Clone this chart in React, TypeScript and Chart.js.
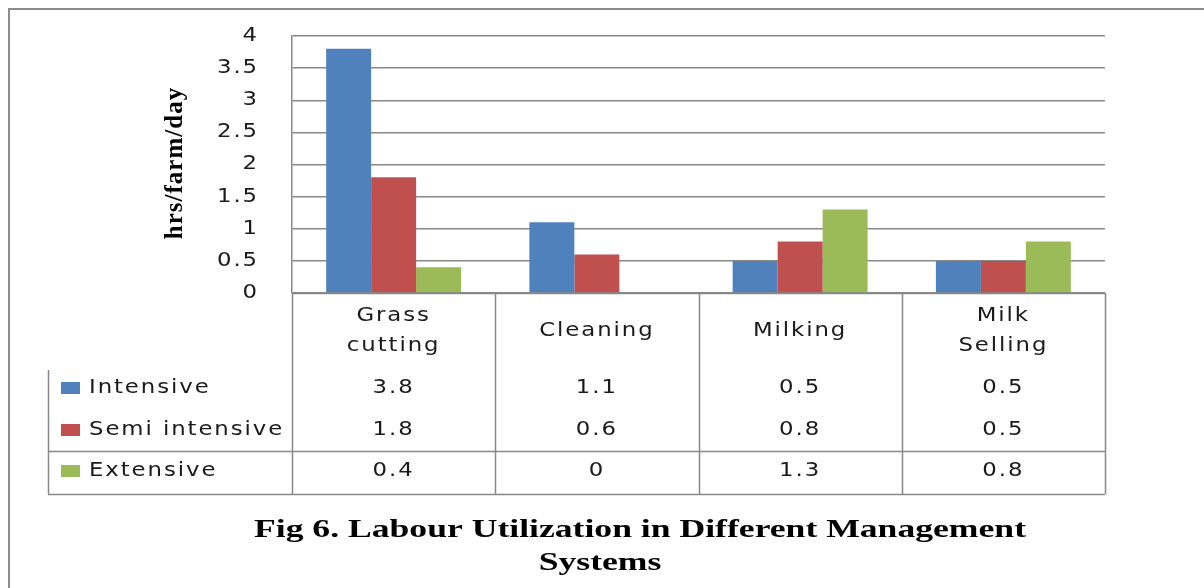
import React, { useEffect, useRef } from "react";
import { Chart, registerables } from "chart.js";

Chart.register(...registerables);

const categories = ["Grass cutting", "Cleaning", "Milking", "Milk Selling"];
const categoryLines: string[][] = [["Grass", "cutting"], ["Cleaning"], ["Milking"], ["Milk", "Selling"]];
const seriesNames = ["Intensive", "Semi intensive", "Extensive"];
const intensive = [3.8, 1.1, 0.5, 0.5];
const semiIntensive = [1.8, 0.6, 0.8, 0.5];
const extensive = [0.4, 0, 1.3, 0.8];
const seriesColors = ["#4F81BD", "#C0504D", "#9BBB59"];
const yMin = 0;
const yMax = 4;
const yStep = 0.5;
const yAxisTitle = "hrs/farm/day";
const chartTitle = ["Fig 6. Labour Utilization in Different Management", "Systems"];

const seriesValues = [intensive, semiIntensive, extensive];

const TEXT_FONT = '19px "DejaVu Sans"';
const TEXT_COLOR = "#1a1a1a";
const LINE_COLOR = "#888888";
const TEXT_SX = 1.2;
const TEXT_SPACING = 1.6;

function drawText(
  ctx: CanvasRenderingContext2D,
  text: string,
  x: number,
  y: number,
  align: CanvasTextAlign
) {
  ctx.save();
  ctx.translate(x, y);
  ctx.scale(TEXT_SX, 1);
  ctx.font = TEXT_FONT;
  ctx.fillStyle = TEXT_COLOR;
  ctx.letterSpacing = TEXT_SPACING + "px";
  ctx.textBaseline = "middle";
  ctx.textAlign = align;
  ctx.fillText(text, 0, 0);
  ctx.restore();
}

const tablePlugin = {
  id: "dataTable",
  afterDraw(chart: any) {
    const ctx: CanvasRenderingContext2D = chart.ctx;
    const xs = chart.scales.x;
    const ys = chart.scales.y;
    const area = chart.chartArea;
    const n = categories.length;
    const colW = (area.right - area.left) / n;
    const top = area.bottom;
    const legendTop = 370;
    const rowY = [388, 430, 471];
    const sepY = 451;
    const bottom = 494;
    const legendLeft = 48;

    ctx.save();
    // outer frame
    ctx.strokeStyle = "#8c8c8c";
    ctx.lineWidth = 2;
    ctx.strokeRect(9, 9, 1400, 800);

    // table lines
    ctx.strokeStyle = LINE_COLOR;
    ctx.lineWidth = 1.5;
    ctx.beginPath();
    for (let i = 0; i <= n; i++) {
      const x = Math.round(area.left + i * colW) + 0.5;
      ctx.moveTo(x, top);
      ctx.lineTo(x, bottom);
    }
    ctx.moveTo(legendLeft + 0.5, legendTop);
    ctx.lineTo(legendLeft + 0.5, bottom);
    ctx.moveTo(legendLeft, sepY + 0.5);
    ctx.lineTo(area.right, sepY + 0.5);
    ctx.moveTo(legendLeft, bottom + 0.5);
    ctx.lineTo(area.right, bottom + 0.5);
    ctx.moveTo(area.left, top + 0.5);
    ctx.lineTo(area.right, top + 0.5);
    ctx.stroke();

    // y tick labels
    ys.ticks.forEach((t: any) => {
      drawText(ctx, String(t.value), 259, ys.getPixelForValue(t.value), "right");
    });

    // table header and values
    categoryLines.forEach((lines, i) => {
      const cx = xs.getPixelForValue(i);
      if (lines.length === 2) {
        drawText(ctx, lines[0], cx, 316, "center");
        drawText(ctx, lines[1], cx, 346, "center");
      } else {
        drawText(ctx, lines[0], cx, 331, "center");
      }
    });
    seriesValues.forEach((vals, s) => {
      vals.forEach((v, i) => {
        drawText(ctx, String(v), xs.getPixelForValue(i), rowY[s], "center");
      });
    });
    seriesNames.forEach((name, s) => {
      ctx.fillStyle = seriesColors[s];
      ctx.fillRect(61, rowY[s] - 6, 19, 12);
      drawText(ctx, name, 89, rowY[s], "left");
    });

    // y axis title
    ctx.save();
    ctx.letterSpacing = "1px";
    ctx.translate(176, 163);
    ctx.rotate(-Math.PI / 2);
    ctx.font = 'bold 25px "Liberation Serif"';
    ctx.fillStyle = "#000";
    ctx.textAlign = "center";
    ctx.textBaseline = "middle";
    ctx.fillText(yAxisTitle, 0, 0);
    ctx.restore();

    // chart title
    ctx.letterSpacing = "0px";
    ctx.font = 'bold 26px "Liberation Serif"';
    ctx.fillStyle = "#000";
    ctx.textAlign = "center";
    ctx.textBaseline = "middle";
    const titlePos = [
      [640, 530],
      [600, 563],
    ];
    chartTitle.forEach((line, i) => {
      ctx.save();
      ctx.translate(titlePos[i][0], titlePos[i][1]);
      ctx.scale(1.37, 1);
      ctx.fillText(line, 0, 0);
      ctx.restore();
    });
    ctx.restore();
  },
};

export default function App() {
  const canvasRef = useRef<HTMLCanvasElement | null>(null);

  useEffect(() => {
    if (!canvasRef.current) return;
    const chart = new Chart(canvasRef.current, {
      type: "bar",
      data: {
        labels: categories,
        datasets: seriesNames.map((name, s) => ({
          label: name,
          data: seriesValues[s],
          backgroundColor: seriesColors[s],
          borderWidth: 0,
          categoryPercentage: 0.664,
          barPercentage: 1,
        })),
      },
      options: {
        animation: false,
        responsive: true,
        maintainAspectRatio: false,
        layout: { padding: { top: 36, right: 99, bottom: 295, left: 0 } },
        plugins: {
          legend: { display: false },
          tooltip: { enabled: false },
          title: { display: false },
        },
        scales: {
          x: {
            display: true,
            ticks: { display: false },
            grid: { display: false, drawTicks: false },
            border: { display: false },
            afterFit: (s: any) => {
              s.height = 0;
            },
          },
          y: {
            min: yMin,
            max: yMax,
            ticks: { stepSize: yStep, display: false },
            grid: { color: LINE_COLOR, lineWidth: 1.5, drawTicks: false },
            border: { display: true, color: LINE_COLOR, width: 1.5 },
            afterFit: (s: any) => {
              s.width = 292;
            },
          },
        },
      },
      plugins: [tablePlugin],
    });
    return () => chart.destroy();
  }, []);

  return (
    <div style={{ position: "absolute", left: 0, top: 0, width: 1204, height: 588, background: "#fff" }}>
      <canvas ref={canvasRef} />
    </div>
  );
}
